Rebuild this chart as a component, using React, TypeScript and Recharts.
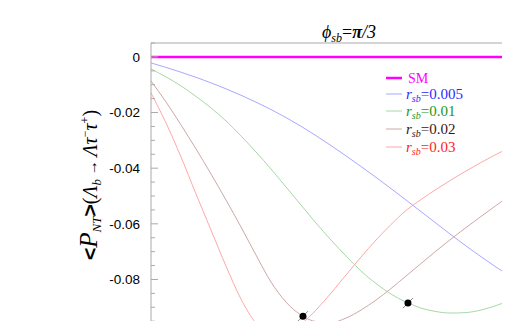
import { ComposedChart, Line, Scatter, XAxis, YAxis, ReferenceLine } from "recharts";

// sample positions along the (unlabelled) horizontal axis
const X = [0, 1, 2, 3, 4, 5, 6, 7, 8, 9, 10, 11, 12, 13, 14, 15, 16, 17, 18, 19, 20, 21, 22, 23, 24, 25, 26];

const SM = [0, 0, 0, 0, 0, 0, 0, 0, 0, 0, 0, 0, 0, 0, 0, 0, 0, 0, 0, 0, 0, 0, 0, 0, 0, 0, 0];
const R005 = [-0.00216, -0.00378, -0.0055, -0.00734, -0.00932, -0.01147, -0.01378, -0.01626, -0.01892, -0.0218, -0.02493, -0.02831, -0.03187, -0.03557, -0.03939, -0.04331, -0.04734, -0.05144, -0.05561, -0.05978, -0.06392, -0.06795, -0.07183, -0.07554, -0.07906, -0.08241, -0.08557];
const R01 = [-0.00432, -0.00719, -0.01043, -0.01421, -0.01834, -0.02302, -0.02842, -0.03417, -0.04029, -0.04676, -0.05324, -0.05971, -0.06583, -0.07158, -0.07698, -0.08147, -0.08525, -0.08813, -0.09029, -0.09154, -0.09208, -0.0919, -0.091, -0.08939, -0.08741, -0.08507, -0.08237];
const R02 = [-0.00863, -0.01619, -0.02446, -0.03309, -0.04208, -0.05144, -0.06115, -0.07122, -0.08093, -0.08813, -0.0928, -0.09514, -0.0955, -0.09388, -0.091, -0.08741, -0.08327, -0.07877, -0.07428, -0.06978, -0.06547, -0.06133, -0.05737, -0.05342, -0.04964, -0.04604, -0.04262];
const R03 = [-0.01295, -0.02374, -0.03597, -0.04928, -0.06223, -0.07518, -0.08705, -0.09568, -0.09928, -0.09892, -0.09604, -0.091, -0.08489, -0.07841, -0.07194, -0.06583, -0.06025, -0.05521, -0.05126, -0.04766, -0.04424, -0.04101, -0.03795, -0.03507, -0.03237, -0.02986, -0.02752];

// black points (minima markers)
const DOT_X = [7.55, 10.13, 17.13];
const DOT_Y = [-0.0972, -0.0932, -0.0885];

const Y_TICKS = [0.005, 0, -0.005, -0.01, -0.015, -0.02, -0.025, -0.03, -0.035, -0.04, -0.045, -0.05, -0.055, -0.06, -0.065, -0.07, -0.075, -0.08, -0.085, -0.09, -0.095, -0.1];
const Y_LABELS: Record<string, string> = { "0": "0", "-0.02": "-0.02", "-0.04": "-0.04", "-0.06": "-0.06", "-0.08": "-0.08" };

const LEGEND = [
  { name: "SM", value: "", line: "#ff00ff", text: "#ff00ff", width: 2.5 },
  { name: "r", value: "=0.005", line: "#a8a8ff", text: "#2b2bff", width: 1 },
  { name: "r", value: "=0.01", line: "#a8d8a8", text: "#1d961d", width: 1 },
  { name: "r", value: "=0.02", line: "#cfa8a8", text: "#3d1414", width: 1 },
  { name: "r", value: "=0.03", line: "#ffa8a8", text: "#ff2222", width: 1 },
];
const LEGEND_Y = [78, 94, 111, 129, 147];

const rows = X.map((x, i) => ({ x, sm: SM[i], r005: R005[i], r01: R01[i], r02: R02[i], r03: R03[i] }));
const dots = DOT_X.map((x, i) => ({ x, y: DOT_Y[i] }));

const AXIS_X = 151;
const SERIF = "'Liberation Serif', 'DejaVu Serif', serif";
const SANS = "'Liberation Sans', Arial, sans-serif";

function YTick(props: any) {
  const { y, payload } = props;
  const v = Number(payload.value);
  const key = String(Math.round(v * 1000) / 1000);
  const label = Y_LABELS[key];
  const major = label !== undefined;
  return (
    <g>
      <line x1={AXIS_X} x2={AXIS_X + (major ? 7 : 4)} y1={y} y2={y} stroke="#aaaaaa" />
      {major && (
        <text x={140} y={y} dy="0.36em" textAnchor="end" fontFamily={SANS} fontSize={13.5} fill="#000">
          {label}
        </text>
      )}
    </g>
  );
}

function ErrDot(props: any) {
  const { cx, cy } = props;
  return (
    <g>
      <line x1={cx - 5} y1={cy + 5} x2={cx + 5} y2={cy - 5} stroke="#888" strokeWidth={1} />
      <circle cx={cx} cy={cy} r={3.5} fill="#000" />
    </g>
  );
}

export default function App() {
  return (
    <div style={{ position: "relative", width: 510, height: 329, margin: -8, overflow: "hidden", background: "#fff" }}>
      <ComposedChart width={545} height={355} data={rows} margin={{ top: 43, right: 4, bottom: 6, left: 0 }}>
        <XAxis dataKey="x" type="number" domain={[0, 26]} hide />
        <YAxis
          type="number"
          domain={[-0.105, 0.005]}
          ticks={Y_TICKS}
          interval={0}
          width={151}
          axisLine={{ stroke: "#aaaaaa" }}
          tickLine={false}
          tick={<YTick />}
        />
        <ReferenceLine y={0.005} stroke="#aaaaaa" />
        <Line type="monotone" dataKey="r005" stroke="#a8a8ff" strokeWidth={1} dot={false} isAnimationActive={false} />
        <Line type="monotone" dataKey="r01" stroke="#a8d8a8" strokeWidth={1} dot={false} isAnimationActive={false} />
        <Line type="monotone" dataKey="r02" stroke="#cfa8a8" strokeWidth={1} dot={false} isAnimationActive={false} />
        <Line type="monotone" dataKey="r03" stroke="#ffa8a8" strokeWidth={1} dot={false} isAnimationActive={false} />
        <Line type="linear" dataKey="sm" stroke="#ff00ff" strokeWidth={2.5} dot={false} isAnimationActive={false} />
        <Scatter data={dots} dataKey="y" shape={<ErrDot />} isAnimationActive={false} />
      </ComposedChart>
      <svg width={510} height={329} style={{ position: "absolute", left: 0, top: 0, pointerEvents: "none" }}>
        <text x={349} y={38} textAnchor="middle" fontFamily={SERIF} fontSize={18} fill="#000">
          <tspan fontStyle="italic">ϕ</tspan>
          <tspan fontStyle="italic" fontSize={12} dy={4}>sb</tspan>
          <tspan dy={-4}>=</tspan>
          <tspan fontStyle="italic" fontWeight="bold">π</tspan>
          <tspan fontStyle="italic">/3</tspan>
        </text>
        <g transform="translate(97,185) rotate(-90)">
          <text x={0} y={0} textAnchor="middle" fontFamily={SERIF} fill="#000">
            <tspan fontFamily={SANS} fontWeight="bold" fontSize={21}>&lt;</tspan>
            <tspan fontStyle="italic" fontSize={25}>P</tspan>
            <tspan fontStyle="italic" fontSize={13} dy={4}>NT</tspan>
            <tspan fontFamily={SANS} fontWeight="bold" fontSize={21} dy={-4}>&gt;</tspan>
            <tspan fontSize={20}>(</tspan>
            <tspan fontStyle="italic" fontSize={20}>Λ</tspan>
            <tspan fontStyle="italic" fontSize={13} dy={4}>b</tspan>
            <tspan fontSize={15} dy={-4}> → </tspan>
            <tspan fontStyle="italic" fontSize={20}>Λτ</tspan>
            <tspan fontSize={12} dy={-8}>−</tspan>
            <tspan fontStyle="italic" fontSize={20} dy={8}>τ</tspan>
            <tspan fontSize={12} dy={-8}>+</tspan>
            <tspan fontSize={20} dy={8}>)</tspan>
          </text>
        </g>
        {LEGEND.map((e, i) => {
          const y = LEGEND_Y[i];
          return (
            <g key={i}>
              <line x1={386} x2={402} y1={y} y2={y} stroke={e.line} strokeWidth={e.width} />
              {e.value === "" ? (
                <text x={408} y={y + 5} fontFamily={SERIF} fontSize={14} fill={e.text}>
                  {e.name}
                </text>
              ) : (
                <text x={406} y={y + 5} fontFamily={SERIF} fontSize={15} fill={e.text}>
                  <tspan fontStyle="italic">{e.name}</tspan>
                  <tspan fontStyle="italic" fontSize={10} dy={3}>sb</tspan>
                  <tspan dy={-3}>{e.value}</tspan>
                </text>
              )}
            </g>
          );
        })}
      </svg>
    </div>
  );
}
